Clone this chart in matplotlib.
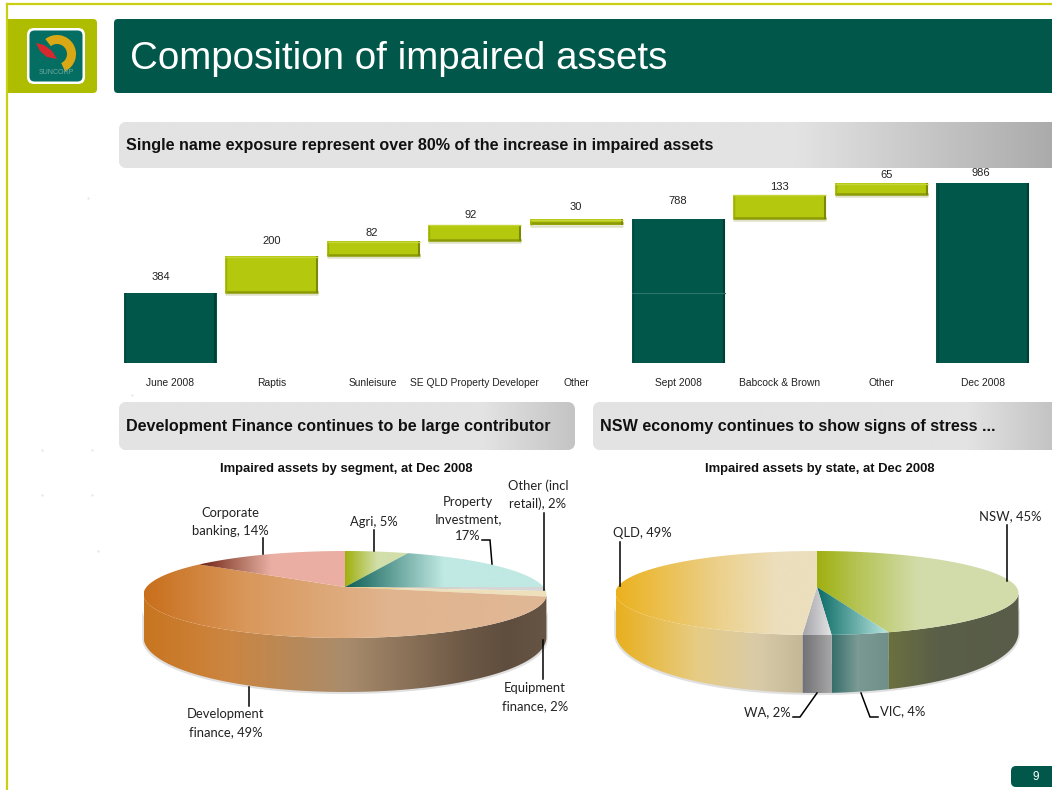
import numpy as np
import matplotlib
matplotlib.use("Agg")
import matplotlib.pyplot as plt
from matplotlib.colors import LinearSegmentedColormap
from matplotlib.patches import FancyBboxPatch, Polygon, Wedge, Rectangle

# --------------------------------------------------------------------
# DATA

steps = ["June 2008", "Raptis", "Sunleisure", "SE QLD Property Developer", "Other",
         "Sept 2008", "Babcock & Brown", "Other", "Dec 2008"]
step_values = [384, 200, 82, 92, 30, 788, 133, 65, 986]
step_is_total = [True, False, False, False, False, True, False, False, True]

segment_labels = ["Agri, 5%", "Property\nInvestment,\n17%", "Other (incl\nretail), 2%",
                  "Equipment\nfinance, 2%", "Development\nfinance, 49%", "Corporate\nbanking, 14%"]
# slice sizes as drawn, the printed 49% does not match the slice in the picture
segment_shares = [6, 19, 1.5, 2, 56.5, 15]

state_labels = ["NSW, 45%", "VIC, 4%", "WA, 2%", "QLD, 49%"]
state_shares = [45, 4, 2, 49]

# --------------------------------------------------------------------
# STYLE

DARK = "#01584a"
LIME = "#b4c90e"
plt.rcParams["font.family"] = ["Liberation Sans", "DejaVu Sans"]
LABEL_FONT = "Lato"

fig = plt.figure(figsize=(10.52, 7.90), dpi=100)
page = fig.add_axes([0, 0, 1, 1])


def reset_page():
    page.set_xlim(0, 1052)
    page.set_ylim(790, 0)
    page.axis("off")


def grad_fill(points, stops, x0, x1, z=2):
    """horizontal gradient between x0 and x1 clipped to a polygon"""
    cmap = LinearSegmentedColormap.from_list("g", stops)
    im = page.imshow(np.linspace(0, 1, 512).reshape(1, -1), cmap=cmap, vmin=0, vmax=1,
                     extent=(x0, x1, 790, 0), aspect="auto", zorder=z, interpolation="bilinear")
    clip = Polygon(points, closed=True, fc="none", ec="none", transform=page.transData)
    page.add_patch(clip)
    im.set_clip_path(clip)


def box(x0, y0, x1, y1, color, radius=5, z=1):
    patch = FancyBboxPatch((x0 + radius, y0 + radius), x1 - x0 - 2 * radius, y1 - y0 - 2 * radius,
                           boxstyle=f"round,pad={radius},rounding_size={radius}",
                           fc=color, ec="none", zorder=z)
    page.add_patch(patch)
    return patch


def banner(x0, y0, x1, y1, stops, text):
    patch = box(x0, y0, x1, y1, "#e3e3e3", radius=8)
    cmap = LinearSegmentedColormap.from_list("b", stops)
    im = page.imshow(np.linspace(0, 1, 512).reshape(1, -1), cmap=cmap, vmin=0, vmax=1,
                     extent=(x0, x1, y1, y0), aspect="auto", zorder=1.5)
    im.set_clip_path(patch)
    page.text(x0 + 7.5, (y0 + y1) / 2 + 0.5, text, fontsize=11.6, fontweight="bold", color="#111111",
              va="center", ha="left", zorder=3)


# --------------------------------------------------------------------
# SLIDE FURNITURE

page.plot([7, 1052], [4, 4], color="#c9cf12", lw=1.6, zorder=5)
page.plot([7, 7], [4, 790], color="#c9cf12", lw=1.6, zorder=5)
box(7, 19, 97, 93, "#aebd00", radius=4)
page.add_patch(Rectangle((7, 19), 20, 74, fc="#aebd00", ec="none", zorder=1))
box(27, 28, 85, 84, "white", radius=7, z=2)
box(29.5, 30.5, 82.5, 81.5, "#056e62", radius=5, z=3)
page.add_patch(Wedge((57, 54), 19, 232, 425, width=9, fc="#d9a814", ec="none", zorder=4))
page.add_patch(Polygon([(36, 43), (44, 45), (52, 51), (57, 59), (47, 57), (40, 51)], fc="#d9272e", ec="none", zorder=5))
page.text(56, 73, "SUNCORP", fontsize=5, color="#6fa9a0", ha="center", va="center", zorder=5)

box(114, 19, 1062, 93, DARK, radius=4)
page.text(130, 59, "Composition of impaired assets", fontsize=27.7, color="white", va="center", ha="left", zorder=3)

banner(119, 122, 1062, 168, [(0, "#e3e3e3"), (0.72, "#e3e3e3"), (1, "#a9a9a9")],
       "Single name exposure represent over 80% of the increase in impaired assets")
banner(119, 402, 575, 450, [(0, "#e3e3e3"), (0.8, "#e3e3e3"), (1, "#c4c4c4")],
       "Development Finance continues to be large contributor")
banner(593, 402, 1062, 450, [(0, "#e3e3e3"), (0.8, "#e3e3e3"), (1, "#c0c0c0")],
       "NSW economy continues to show signs of stress ...")

page.text(346.5, 469, "Impaired assets by segment, at Dec 2008", fontsize=9.4, fontweight="bold",
          ha="center", va="center", color="#111111")
page.text(819.5, 469, "Impaired assets by state, at Dec 2008", fontsize=9.4, fontweight="bold",
          ha="center", va="center", color="#111111")

box(1011, 766, 1062, 787, DARK, radius=5)
page.text(1036, 776.5, "9", fontsize=8.5, color="white", ha="center", va="center", zorder=3)

page.scatter([88, 132, 42, 92, 42, 92, 98], [198, 395, 450, 450, 495, 495, 551], s=3, color="#e8e8e8", lw=0, zorder=1)

# --------------------------------------------------------------------
# WATERFALL

wf = fig.add_axes([119.2 / 1052, (790 - 363) / 790, (1033.8 - 119.2) / 1052, 182.6 / 790])
wf.patch.set_alpha(0)
x_pos = np.arange(len(steps))
level = 0
bases = []
for value, total in zip(step_values, step_is_total):
    if total:
        bases.append(0)
        level = value
    else:
        bases.append(level)
        level += value
bases = np.array(bases)
values = np.array(step_values)
colors = [DARK if t else LIME for t in step_is_total]
wf.bar(x_pos, values, width=0.915, bottom=bases, color=colors, edgecolor="none", zorder=2)
for i in x_pos:
    left, right = i - 0.4575, i + 0.4575
    top = bases[i] + values[i]
    if step_is_total[i]:
        wf.plot([right - 0.01, right - 0.01], [0, top], color="#013f35", lw=1.5, zorder=3, solid_capstyle="butt")
        wf.plot([left + 0.01, left + 0.01], [0, top], color="#01483c", lw=1, zorder=3, solid_capstyle="butt")
    else:
        wf.plot([left, right], [bases[i] - 6, bases[i] - 6], color="#dfe2c8", lw=1.8, zorder=1, solid_capstyle="butt")
        wf.plot([left, right], [bases[i] + 6, bases[i] + 6], color="#8c9a05", lw=1.8, zorder=3, solid_capstyle="butt")
        wf.plot([right - 0.012, right - 0.012], [bases[i], top], color="#7c8804", lw=1.5, zorder=3, solid_capstyle="butt")
        wf.plot([left + 0.008, left + 0.008], [bases[i], top], color="#9cae08", lw=1, zorder=3, solid_capstyle="butt")
        wf.plot([left, right], [top - 3, top - 3], color="#c4d43a", lw=1, zorder=3, solid_capstyle="butt")
# seam inside the Sept 2008 column
wf.plot([5 - 0.4575, 5 + 0.4575], [step_values[0], step_values[0]], color="#2f7468", lw=0.8, zorder=3)
wf.set_xlim(-0.5, len(steps) - 0.5)
wf.set_ylim(0, 1000)
wf.set_xticks(x_pos, steps, fontsize=7.4, color="#222222")
wf.tick_params(axis="x", length=0, pad=11)
wf.set_yticks([])
for side in wf.spines.values():
    side.set_visible(False)

value_x = [161, 272, 372, 471, 576, 678, 779, 887, 981]
value_y = [276.5, 241.5, 233.5, 214.5, 207.5, 201.5, 187.5, 175.5, 172.5]
for px, py, value in zip(value_x, value_y, step_values):
    page.text(px, py, str(value), fontsize=8, ha="center", va="center", color="#222222", zorder=6)

# --------------------------------------------------------------------
# PERSPECTIVE PIES


def rim(theta, apex, back, front, width):
    """point of the top face rim, theta in degrees clockwise from the back of the pie"""
    k = (front - back) / (front + back)
    a = back * (1 + k)
    big = width * np.sqrt(1 - k * k)
    u, v = np.sin(np.radians(theta)), np.cos(np.radians(theta))
    return apex[0] + big * u / (1 + k * v), apex[1] - a * v / (1 + k * v)


def pie3d(shares, apex, back, front, width, side, deep, tops, walls):
    x0, x1 = apex[0] - width, apex[0] + width
    k = (front - back) / (front + back)
    limit = np.degrees(np.arccos(-k))
    ang = np.concatenate([[0], np.cumsum(shares) * 360 / np.sum(shares)])

    # soft shadow under the wall
    t = np.linspace(limit, 360 - limit, 120)
    sx, sy = rim(t, apex, back, front, width)
    sy = sy + side + (deep - side) * np.maximum(0, -np.cos(np.radians(t))) + 2
    sx = apex[0] + (sx - apex[0]) * 1.006
    page.fill(np.r_[sx, sx[::-1]], np.r_[sy, sy[::-1] - 30], color="#e0e0e0", lw=0, zorder=1.5)

    for i in range(len(shares)):
        a0, a1 = ang[i], ang[i + 1]
        # wall part of the slice, only the front of the rim shows
        w0, w1 = max(a0, limit), min(a1, 360 - limit)
        if w1 > w0:
            t = np.linspace(w0, w1, 80)
            rx, ry = rim(t, apex, back, front, width)
            low = ry + side + (deep - side) * np.maximum(0, -np.cos(np.radians(t)))
            pts = np.c_[np.r_[rx, rx[::-1]], np.r_[ry, low[::-1]]]
            grad_fill(pts, walls[i], x0, x1, z=2)
        # top face
        t = np.linspace(a0, a1, 120)
        rx, ry = rim(t, apex, back, front, width)
        pts = np.c_[np.r_[apex[0], rx], np.r_[apex[1], ry]]
        grad_fill(pts, tops[i], x0, x1, z=3)


seg_tops = [
    [(0, "#a0b010"), (0.5, "#a0b010"), (0.58, "#d2dfaa"), (1, "#d2dfaa")],
    [(0, "#0d5f55"), (0.5, "#0d5f55"), (0.745, "#c0e9e3"), (1, "#c0e9e3")],
    [(0, "#b5b5a8"), (0.5, "#b5b5a8"), (0.8, "#d6d6d6"), (1, "#d6d6d6")],
    [(0, "#e8b820"), (0.5, "#e8b820"), (0.65, "#ede0bb"), (1, "#ede0bb")],
    [(0, "#c86f1c"), (0.25, "#d9975a"), (0.6, "#e0b48e"), (1, "#e0b896")],
    [(0, "#6e2010"), (0.134, "#6e2010"), (0.265, "#c58a7a"), (0.315, "#ebaea3"), (1, "#ebaea3")],
]
seg_walls = [
    [(0, "#666666"), (1, "#666666")],
    [(0, "#5f6a66"), (1, "#5f6a66")],
    [(0, "#777777"), (1, "#777777")],
    [(0, "#6a5a48"), (1, "#6a5a48")],
    [(0, "#c8751f"), (0.2, "#cc8540"), (0.5, "#a98c6c"), (0.8, "#6d5846"), (0.9, "#5f4e3e"), (1, "#665544")],
    [(0, "#c8751f"), (1, "#c8751f")],
]
state_tops = [
    [(0, "#a0b010"), (0.5, "#a0b010"), (0.6, "#b5c455"), (0.75, "#d2dcaa"), (1, "#d2dcaa")],
    [(0, "#0c6b66"), (0.5, "#0c6b66"), (0.68, "#bde9e3"), (1, "#bde9e3")],
    [(0, "#a0a0a8"), (0.46, "#a0a0a8"), (0.53, "#e0e0e0"), (1, "#e0e0e0")],
    [(0, "#ebb21e"), (0.25, "#ecd08a"), (0.4, "#ecdfbd"), (1, "#ecdfbd")],
]
state_walls = [
    [(0, "#6b7040"), (0.68, "#6b7040"), (0.8, "#5a5f48"), (1, "#585c48")],
    [(0, "#2f6a66"), (0.53, "#2f6a66"), (0.6, "#7b9a95"), (0.68, "#6f8f88"), (1, "#6f8f88")],
    [(0, "#6f6f75"), (0.46, "#6f6f75"), (0.53, "#a3a3a3"), (1, "#a3a3a3")],
    [(0, "#e9b01f"), (0.2, "#e6cc84"), (0.35, "#dacba8"), (0.46, "#c4b898"), (1, "#c4b898")],
]

pie3d(segment_shares, (345, 587), 36, 51, 201.5, 40, 54, seg_tops, seg_walls)
pie3d(state_shares, (817, 587), 36, 48, 201.5, 36, 58, state_tops, state_walls)

# --------------------------------------------------------------------
# LABELS AND LEADERS

seg_label_pos = [(374, 522), (468, 519), (538, 495), (535, 697), (226, 723), (230, 522)]
state_label_pos = [(1010, 516), (903, 711), (767, 712), (642, 533)]
for text, (px, py) in zip(segment_labels + state_labels, seg_label_pos + state_label_pos):
    page.text(px, py, text, family=LABEL_FONT, fontsize=9.4, color="#222222", ha="center", va="center",
              linespacing=1.55, zorder=6)

leaders = [
    [(263, 538), (263, 554)],
    [(374, 530), (374, 551)],
    [(482, 540), (490, 540), (492, 564)],
    [(544, 513), (544, 590)],
    [(543, 640), (543, 679)],
    [(249, 687), (249, 706)],
    [(620, 542), (620, 586)],
    [(1007, 525), (1007, 581)],
    [(793, 717), (800, 717), (817, 693)],
    [(861, 693), (870, 717), (878, 717)],
]
for line in leaders:
    xs, ys = zip(*line)
    page.plot(xs, ys, color="black", lw=1.1, zorder=5, solid_joinstyle="miter")

reset_page()
fig.savefig("out.png", dpi=100)
